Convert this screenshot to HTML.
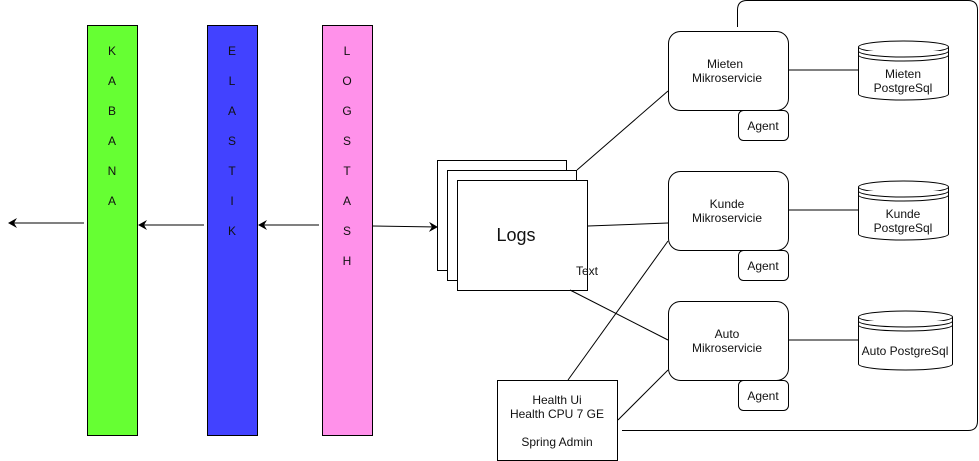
<!DOCTYPE html>
<html><head><style>body{margin:0;background:#fff}svg{display:block}text{font-family:"Liberation Sans",sans-serif;font-size:12px;fill:#111}</style></head>
<body>
<svg width="979" height="461" viewBox="0 0 979 461" xmlns="http://www.w3.org/2000/svg">
<defs><marker id="a" markerWidth="10" markerHeight="10" refX="8" refY="5" orient="auto" markerUnits="userSpaceOnUse"><path d="M0,0 L9,5 L0,10 L3,5 z" fill="#000"/></marker></defs>
<rect x="87.5" y="25.5" width="50" height="410" fill="#66ff33" stroke="#000"/>
<rect x="207.5" y="25.5" width="50" height="410" fill="#4242ff" stroke="#000"/>
<rect x="322.5" y="25.5" width="50" height="410" fill="#ff91ea" stroke="#000"/>
<g text-anchor="middle">
<text x="112" y="55">K</text><text x="112" y="85">A</text><text x="112" y="115">B</text><text x="112" y="145">A</text><text x="112" y="175">N</text><text x="112" y="205">A</text>
<text x="232" y="55">E</text><text x="232" y="85">L</text><text x="232" y="115">A</text><text x="232" y="145">S</text><text x="232" y="175">T</text><text x="232" y="205">I</text><text x="232" y="235">K</text>
<text x="347" y="55">L</text><text x="347" y="85">O</text><text x="347" y="115">G</text><text x="347" y="145">S</text><text x="347" y="175">T</text><text x="347" y="205">A</text><text x="347" y="235">S</text><text x="347" y="265">H</text>
</g>
<g stroke="#000" fill="none">
<line x1="84" y1="223" x2="9" y2="223" marker-end="url(#a)"/>
<line x1="204" y1="225" x2="139" y2="225" marker-end="url(#a)"/>
<line x1="319" y1="225" x2="259" y2="225" marker-end="url(#a)"/>
<line x1="372" y1="226" x2="437" y2="227" marker-end="url(#a)"/>
<rect x="437.5" y="160.5" width="129" height="110" fill="#fff"/>
<rect x="447.5" y="170.5" width="129" height="110" fill="#fff"/>
<rect x="457.5" y="180.5" width="130" height="110" fill="#fff"/>
<path d="M737.5,27 V10 Q737.5,0.5 747,0.5 H968 Q977.5,0.5 977.5,10 V421 Q977.5,430.5 968,430.5 H622"/>
<line x1="577" y1="170" x2="668" y2="91"/>
<line x1="588" y1="226" x2="668" y2="223"/>
<line x1="570" y1="290" x2="668" y2="340"/>
<line x1="568" y1="380" x2="668" y2="241"/>
<line x1="618" y1="420" x2="668" y2="370"/>
<line x1="788" y1="70" x2="858" y2="70"/>
<line x1="788" y1="210" x2="858" y2="210"/>
<line x1="788" y1="340" x2="858" y2="340"/>
<rect x="668.5" y="31.5" width="120" height="79" rx="12" fill="#fff"/>
<rect x="668.5" y="171.5" width="120" height="79" rx="12" fill="#fff"/>
<rect x="668.5" y="301.5" width="120" height="79" rx="12" fill="#fff"/>
<rect x="738.5" y="110.5" width="50" height="30" rx="5" fill="#fff"/>
<rect x="738.5" y="250.5" width="50" height="30" rx="5" fill="#fff"/>
<rect x="738.5" y="380.5" width="50" height="30" rx="5" fill="#fff"/>
<rect x="497.5" y="380.5" width="120" height="80" fill="#fff"/>
<g fill="#fff">
<path d="M858.5,47 V94 A45,6 0 0 0 948.5,94 V47"/><ellipse cx="903.5" cy="47" rx="45" ry="6"/><path d="M858.5,51 A45,6 0 0 0 948.5,51 M858.5,55 A45,6 0 0 0 948.5,55"/>
<path d="M858.5,187 V234 A45,6 0 0 0 948.5,234 V187"/><ellipse cx="903.5" cy="187" rx="45" ry="6"/><path d="M858.5,191 A45,6 0 0 0 948.5,191 M858.5,195 A45,6 0 0 0 948.5,195"/>
<path d="M858.5,317 V364 A47,6 0 0 0 952.5,364 V317"/><ellipse cx="905.5" cy="317" rx="47" ry="6"/><path d="M858.5,321 A47,6 0 0 0 952.5,321 M858.5,325 A47,6 0 0 0 952.5,325"/>
</g>
</g>
<g text-anchor="middle">
<text x="516" y="241" style="font-size:18px">Logs</text>
<text x="587" y="275">Text</text>
<text x="725" y="68">Mieten</text><text x="727" y="82">Mikroservicie</text>
<text x="727" y="208">Kunde</text><text x="727" y="222">Mikroservicie</text>
<text x="727" y="338">Auto</text><text x="727" y="352">Mikroservicie</text>
<text x="763" y="130">Agent</text><text x="763" y="270">Agent</text><text x="763" y="400">Agent</text>
<text x="903" y="78">Mieten</text><text x="903" y="92">PostgreSql</text>
<text x="903" y="218">Kunde</text><text x="903" y="232">PostgreSql</text>
<text x="905" y="355">Auto PostgreSql</text>
<text x="557" y="404">Health Ui</text><text x="557" y="418">Health CPU 7 GE</text><text x="557" y="446">Spring Admin</text>
</g>
</svg>
</body></html>
